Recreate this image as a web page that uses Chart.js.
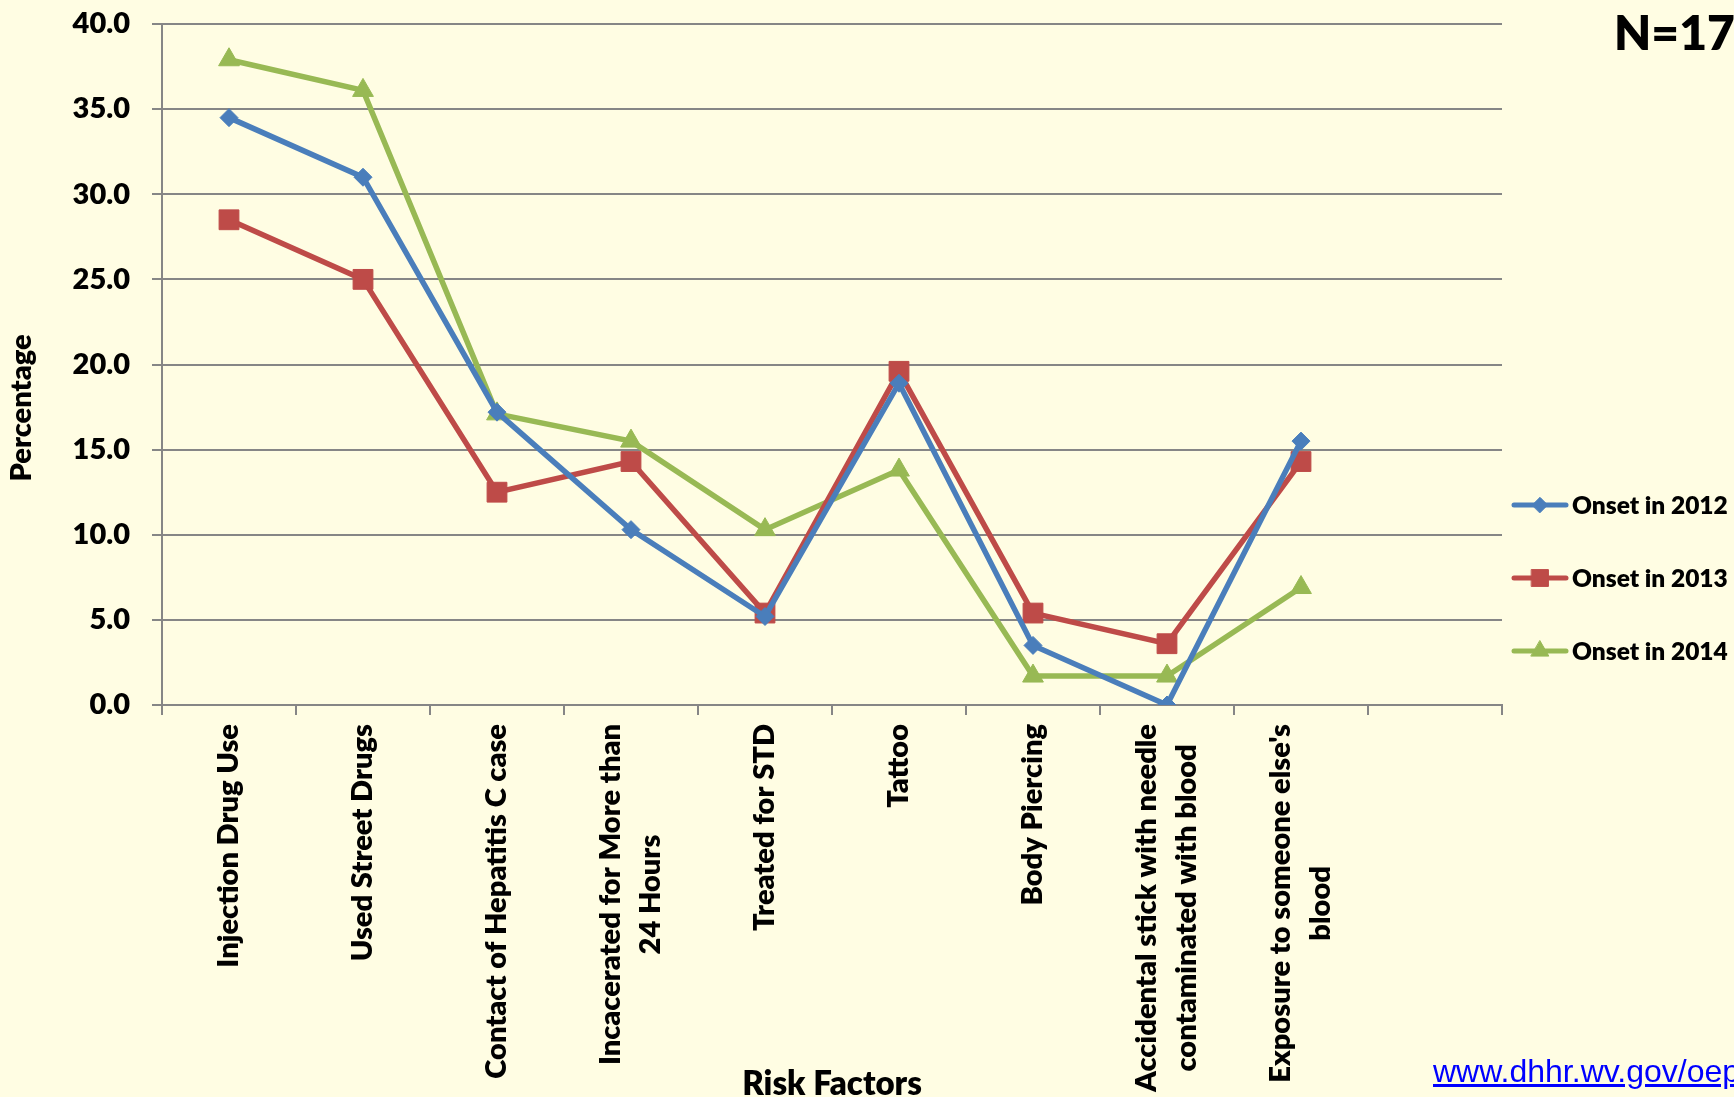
<!DOCTYPE html>
<html>
<head>
<meta charset="utf-8">
<script src="https://cdn.jsdelivr.net/npm/chart.js@4.4.0/dist/chart.umd.min.js"></script>
<style>
  html, body { margin: 0; padding: 0; background: #FFFDE3; overflow: hidden; }
  #wrap { position: relative; width: 1734px; height: 1097px; overflow: hidden; }
  #n-label { position: absolute; left: 1614px; top: 8px; font: 800 48px Lato; line-height: 1; white-space: nowrap; color: #000; }
  #src { position: absolute; left: 1433px; top: 1055px; font: 32px "Liberation Sans"; line-height: 1; white-space: nowrap; color: #0000FF; text-decoration: underline; }
</style>
</head>
<body>
<div id="wrap">
  <canvas id="risk-chart" width="1734" height="1097"></canvas>
  <div id="n-label">N=172</div>
  <a id="src">www.dhhr.wv.gov/oeps</a>
</div>
<script>
// Risk factor categories (last slot is an empty category)
const categories = [
    'Injection Drug Use',
    'Used Street Drugs',
    'Contact of Hepatitis C case',
    ['Incacerated for More than', '24 Hours'],
    'Treated for STD',
    'Tattoo',
    'Body Piercing',
    ['Accidental stick with needle', 'contaminated with blood'],
    ["Exposure to someone else's", 'blood'],
    ''
];

const onset2012 = [34.5, 31.0, 17.2, 10.3, 5.2, 18.9, 3.5, 0.0, 15.5, null];
const onset2013 = [28.5, 25.0, 12.5, 14.3, 5.4, 19.6, 5.4, 3.6, 14.3, null];
const onset2014 = [37.9, 36.1, 17.1, 15.5, 10.3, 13.8, 1.7, 1.7, 6.9, null];

const seriesNames = ['Onset in 2012', 'Onset in 2013', 'Onset in 2014'];
const yTicks = [0, 5, 10, 15, 20, 25, 30, 35, 40];

const axisGray = '#868686';
const labelFont = 'Lato';

// draws the x labels centred like the original (second line centred on first)
// plus the y axis title, which sits a bit below the middle in the original
const xLabelPlugin = {
    id: 'xLabels',
    afterDraw(chart) {
        const sx = chart.scales.x;
        const c = chart.ctx;
        c.save();
        c.font = '800 29px ' + labelFont;
        c.fillStyle = '#000';
        c.textBaseline = 'middle';
        c.textAlign = 'center';
        chart.data.labels.forEach((lab, i) => {
            const lines = Array.isArray(lab) ? lab : [lab];
            if (!lines[0]) return;
            const x = sx.getPixelForTick(i);
            const w = Math.max(...lines.map(l => c.measureText(l).width));
            lines.forEach((ln, j) => {
                c.save();
                c.translate(x + (j - (lines.length - 1) / 2) * 40, sx.top + 19);
                c.rotate(-Math.PI / 2);
                c.fillText(ln, -w / 2, 0);
                c.restore();
            });
        });

        c.save();
        c.translate(22, 408);
        c.rotate(-Math.PI / 2);
        c.fillText('Percentage', 0, 0);
        c.restore();
        c.restore();
    }
};

// legend on the right: line with marker, like the original
const legendPlugin = {
    id: 'sideLegend',
    afterDraw(chart) {
        const c = chart.ctx;
        const ys = [505, 578, 651];
        chart.data.datasets.forEach((ds, i) => {
            const y = ys[i];
            c.save();
            c.strokeStyle = ds.borderColor;
            c.lineWidth = 5;
            c.lineCap = 'round';
            c.beginPath();
            c.moveTo(1514, y);
            c.lineTo(1566, y);
            c.stroke();
            c.fillStyle = ds.backgroundColor;
            c.strokeStyle = ds.backgroundColor;
            c.lineWidth = 1;
            Chart.helpers.drawPoint(c, {pointStyle: ds.pointStyle, radius: ds.pointRadius * 0.85, borderWidth: 1, rotation: 0}, 1540, y);
            c.fillStyle = '#000';
            c.font = '800 24.5px ' + labelFont;
            c.textBaseline = 'middle';
            c.textAlign = 'left';
            c.fillText(ds.label, 1572, y + 1);
            c.restore();
        });
    }
};

const ctx = document.getElementById('risk-chart').getContext('2d');
const riskChart = new Chart(ctx, {
    type: 'line',
    data: {
        labels: categories,
        datasets: [{
            label: seriesNames[0],
            data: onset2012,
            borderColor: '#4A7EBB',
            backgroundColor: '#4A7EBB',
            borderWidth: 5.5,
            pointStyle: 'rectRot',
            pointRadius: 9,
            pointBorderWidth: 1,
            tension: 0
        }, {
            label: seriesNames[1],
            data: onset2013,
            borderColor: '#BE4B48',
            backgroundColor: '#BE4B48',
            borderWidth: 5.5,
            pointStyle: 'rect',
            pointRadius: 14,
            pointBorderWidth: 1,
            tension: 0
        }, {
            label: seriesNames[2],
            data: onset2014,
            borderColor: '#98B954',
            backgroundColor: '#98B954',
            borderWidth: 5.5,
            pointStyle: 'triangle',
            pointRadius: 12,
            pointBorderWidth: 1,
            tension: 0
        }]
    },
    options: {
        responsive: false,
        animation: false,
        layout: { padding: { left: 0, right: 232, top: 24, bottom: 0 } },
        plugins: {
            legend: { display: false },
            tooltip: { enabled: false }
        },
        scales: {
            x: {
                type: 'category',
                offset: true,
                grid: { offset: true, drawOnChartArea: false, tickLength: 10, color: axisGray, lineWidth: 2 },
                border: { color: axisGray, width: 2 },
                ticks: { display: false, autoSkip: false },
                title: {
                    display: true,
                    text: 'Risk Factors',
                    color: '#000',
                    font: { family: labelFont, size: 33, weight: 800 },
                    padding: { top: 0, bottom: -7 }
                },
                afterFit: s => { s.height = 392; s.paddingLeft = 0; s.paddingRight = 0; }
            },
            y: {
                min: 0,
                max: 40,
                afterBuildTicks: s => { s.ticks = yTicks.map(v => ({ value: v })); },
                ticks: {
                    callback: v => Number(v).toFixed(1),
                    color: '#000',
                    font: { family: labelFont, size: 29, weight: 800 },
                    padding: 22
                },
                grid: { color: axisGray, lineWidth: 2, tickLength: 10 },
                border: { color: axisGray, width: 2 },
                title: { display: false },
                afterFit: s => { s.width = 162; s.paddingTop = 0; s.paddingBottom = 0; }
            }
        }
    },
    plugins: [xLabelPlugin, legendPlugin]
});
</script>
</body>
</html>
